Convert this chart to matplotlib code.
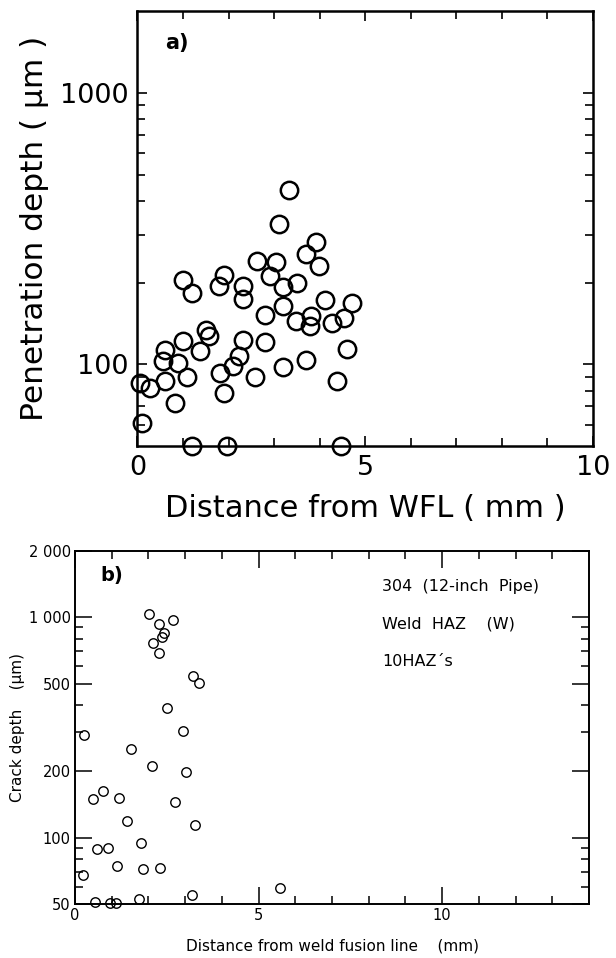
import matplotlib
matplotlib.use('Agg')
import matplotlib.pyplot as plt
from matplotlib.ticker import FixedLocator, FixedFormatter, NullFormatter

# ---------------- panel a) data ----------------
a_distance_mm = [1.00, 1.19, 1.90, 1.78, 2.32, 2.32, 2.62, 3.04, 2.90, 3.20,
                 3.51, 3.71, 3.98, 4.11, 4.71, 4.53, 4.27, 3.80, 3.78, 3.47,
                 3.20, 2.81, 2.81, 3.20, 3.70, 4.59, 4.38, 2.59, 2.31, 2.22,
                 2.10, 1.81, 1.90, 1.51, 1.56, 1.37, 1.00, 0.89, 0.60, 0.57,
                 0.60, 1.08, 0.82, 0.27, 0.05, 0.09, 1.19, 1.97, 4.46, 3.32,
                 3.11, 3.91]
a_depth_um = [204, 183, 213, 195, 194, 174, 241, 238, 211, 192,
              200, 254, 230, 172, 168, 148, 142, 151, 138, 144,
              164, 152, 121, 97.5, 104, 114, 87, 89.5, 123, 107,
              98.3, 92.9, 78.4, 134, 127, 112, 122, 101, 113, 102.5,
              87, 89.5, 72, 82, 85, 61, 50, 50, 50, 437,
              329, 283]
a_xticks = [0, 5, 10]
a_xticklabels = ['0', '5', '10']
a_yticks = [100, 1000]
a_yticklabels = ['100', '1000']

# ---------------- panel b) data ----------------
b_distance_mm = [2.02, 2.29, 2.68, 2.43, 2.36, 2.13, 2.29, 3.22, 3.37, 2.51,
                 2.95, 0.25, 1.53, 2.09, 3.02, 0.77, 0.48, 1.19, 2.73, 1.42,
                 3.28, 1.80, 0.61, 0.91, 1.14, 1.84, 2.32, 0.21, 3.19, 0.55,
                 0.95, 1.12, 1.74, 5.57]
b_depth_um = [1032, 930, 968, 849, 815, 768, 690, 542, 505, 386,
              306, 292, 252, 212, 198, 162, 149, 151, 145.5, 118.5,
              114.5, 94.6, 88.9, 89.8, 74.7, 72.2, 72.6, 68, 55.2, 51,
              50.3, 50.6, 52.4, 59.2]
b_xticks = [0, 5, 10]
b_xticklabels = ['0', '5', '10']
b_yticks = [50, 100, 200, 500, 1000, 2000]
b_yticklabels = ['50', '100', '200', '500', '1 000', '2 000']
b_notes = ['304  (12-inch  Pipe)', 'Weld  HAZ    (W)', '10HAZ\u00b4s']

plt.rcParams['font.family'] = ['DejaVu Sans']

fig = plt.figure(figsize=(6.16, 9.58), dpi=100)

# ---------------- panel a ----------------
axa = fig.add_axes([0.2232, 0.5344, 0.7394, 0.4541])
axa.set_yscale('log')
axa.set_xlim(0, 10)
axa.set_ylim(50, 2000)
axa.plot(a_distance_mm, a_depth_um, linestyle='none', marker='o', ms=12.5,
         mfc='none', mec='black', mew=1.8, clip_on=False, zorder=3)
axa.xaxis.set_major_locator(FixedLocator(a_xticks))
axa.xaxis.set_major_formatter(FixedFormatter(a_xticklabels))
axa.xaxis.set_minor_locator(FixedLocator([1, 2, 3, 4, 6, 7, 8, 9]))
axa.yaxis.set_major_locator(FixedLocator(a_yticks))
axa.yaxis.set_major_formatter(FixedFormatter(a_yticklabels))
axa.yaxis.set_minor_locator(FixedLocator([60, 70, 80, 90, 200, 300, 400, 500,
                                          600, 700, 800, 900]))
axa.yaxis.set_minor_formatter(NullFormatter())
axa.tick_params(which='both', direction='in', top=True, right=True,
                width=1.2, labelsize=19.5, pad=6.5)
axa.tick_params(which='major', length=7.5)
axa.tick_params(which='minor', length=5.5)
for s in axa.spines.values():
    s.set_linewidth(1.8)
axa.set_xlabel('Distance from WFL ( mm )', fontsize=22, labelpad=9)
axa.set_ylabel('Penetration depth ( \u03bcm )', fontsize=22.5, labelpad=8)
axa.text(0.06, 0.95, 'a)', transform=axa.transAxes, fontsize=15,
         fontweight='bold', va='top', ha='left')

# ---------------- panel b ----------------
axb = fig.add_axes([0.1218, 0.0564, 0.8344, 0.3685])
axb.set_yscale('log')
axb.set_xlim(0, 14)
axb.set_ylim(50, 2000)
axb.plot(b_distance_mm, b_depth_um, linestyle='none', marker='o', ms=6.8,
         mfc='none', mec='black', mew=1.0, clip_on=False, zorder=3)
axb.xaxis.set_major_locator(FixedLocator(b_xticks))
axb.xaxis.set_major_formatter(FixedFormatter(b_xticklabels))
axb.xaxis.set_minor_locator(FixedLocator([1, 2, 3, 4, 6, 7, 8, 9, 11, 12, 13]))
axb.yaxis.set_major_locator(FixedLocator(b_yticks))
axb.yaxis.set_major_formatter(FixedFormatter(b_yticklabels))
axb.yaxis.set_minor_locator(FixedLocator([60, 70, 80, 90, 300, 400, 600, 700,
                                          800, 900]))
axb.yaxis.set_minor_formatter(NullFormatter())
axb.tick_params(which='both', direction='in', top=True, right=True,
                width=1.1, labelsize=10.5, pad=3)
axb.tick_params(which='major', length=12)
axb.tick_params(which='minor', length=6)
for s in axb.spines.values():
    s.set_linewidth(1.4)
axb.set_xlabel('Distance from weld fusion line    (mm)', fontsize=11,
               labelpad=11)
axb.set_ylabel('Crack depth    (\u03bcm)', fontsize=11, labelpad=3)
axb.text(0.05, 0.93, 'b)', transform=axb.transAxes, fontsize=14,
         fontweight='bold', va='center', ha='left')
for i, note in enumerate(b_notes):
    axb.text(0.598, 0.898 - i * 0.105, note, transform=axb.transAxes,
             fontsize=11.5, va='center', ha='left')

fig.savefig('out.png', dpi=100)
